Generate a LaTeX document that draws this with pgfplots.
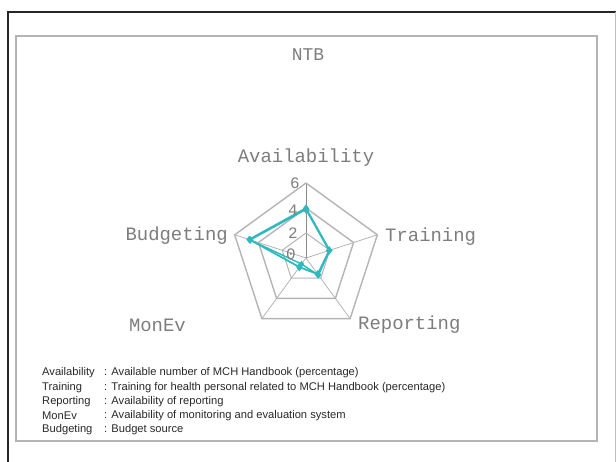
\documentclass[border=0pt]{standalone}
\usepackage{fontspec}
\setmainfont{Liberation Sans}
\newfontfamily\mono{Liberation Mono}
\usepackage{pgfplots}
\usepgfplotslibrary{polar}
\pgfplotsset{compat=1.18}
\definecolor{radar}{RGB}{45,185,190}
\definecolor{ring}{RGB}{180,180,180}
\definecolor{lab}{RGB}{125,125,125}
\definecolor{keytxt}{RGB}{40,40,40}

\begin{document}
\begin{tikzpicture}[x=1bp,y=1bp]
\useasboundingbox (0,0) rectangle (616,462);
% frames
\draw[line width=2bp, black!85] (8,0) -- (8,450) -- (616,450);
\draw[line width=0.8bp, black!25] (615,0) -- (615,450);
\draw[line width=1.3bp, ring] (16,21) rectangle (597,426);

\begin{polaraxis}[
    at={(306bp,204bp)}, anchor=center,
    scale only axis, width=150bp, height=150bp,
    hide axis, clip=false,
    xmin=0, xmax=360, ymin=0, ymax=6,
  ]
  % spokes
  \addplot[ring, line width=0.8bp] coordinates {(18,0) (18,6)};
  \addplot[ring, line width=0.8bp] coordinates {(306,0) (306,6)};
  \addplot[ring, line width=0.8bp] coordinates {(234,0) (234,6)};
  \addplot[ring, line width=0.8bp] coordinates {(162,0) (162,6)};
  \addplot[black!45, line width=0.9bp] coordinates {(90,0) (90,6)};
  % rings
  \addplot[ring, line width=1.4bp] coordinates {(90,6) (18,6) (306,6) (234,6) (162,6) (90,6)};
  \addplot[ring, line width=1.4bp] coordinates {(90,4) (18,4) (306,4) (234,4) (162,4) (90,4)};
  \addplot[ring, line width=1.0bp] coordinates {(90,2) (18,2) (306,2) (234,2) (162,2) (90,2)};
  % data
  \addplot[radar, line width=1.8bp, mark=diamond*, mark size=2.8bp]
    coordinates {(90,3.9) (18,1.95) (306,1.6) (234,0.9) (162,4.7) (90,3.9)};
  \addplot[radar, line width=1.4bp, mark=diamond*, mark size=2.2bp]
    coordinates {(90,4.0) (18,2.0) (306,1.7) (234,0.6) (162,4.8) (90,4.0)};
\end{polaraxis}

% title and axis labels
\node[lab, font=\mono\fontsize{18}{20}\selectfont] at (308,407) {NTB};
\begin{scope}[every node/.style={lab, font=\mono\fontsize{19}{21}\selectfont, inner sep=0pt}]
  \node at (306,304) {Availability};
  \node[anchor=west] at (385,225) {Training};
  \node[anchor=west] at (358,137) {Reporting};
  \node[anchor=east] at (186,137) {MonEv};
  \node[anchor=east] at (228,226) {Budgeting};
\end{scope}
\begin{scope}[every node/.style={lab, font=\mono\fontsize{16}{18}\selectfont, inner sep=0pt, anchor=east}]
  \node at (300,279) {6};
  \node at (298,252) {4};
  \node at (298,229) {2};
  \node at (296,208) {0};
\end{scope}

% key
\begin{scope}[every node/.style={keytxt, font=\fontsize{11.2}{13}\selectfont, inner sep=0pt, anchor=west}]
  \node at (42,89) {Availability}; \node at (104,89) {: Available number of MCH Handbook (percentage)};
  \node at (42,74) {Training};     \node at (104,74) {: Training for health personal related to MCH Handbook (percentage)};
  \node at (42,60) {Reporting};    \node at (104,60) {: Availability of reporting};
  \node at (42,46) {MonEv};        \node at (104,46) {: Availability of monitoring and evaluation system};
  \node at (42,32) {Budgeting};    \node at (104,32) {: Budget source};
\end{scope}
\end{tikzpicture}
\end{document}
